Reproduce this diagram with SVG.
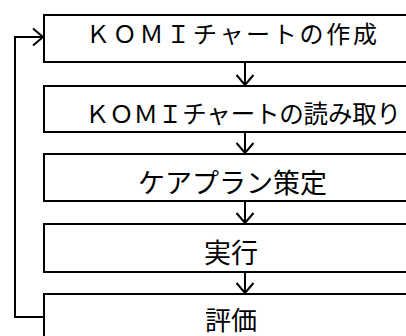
<svg xmlns="http://www.w3.org/2000/svg" width="406" height="336" viewBox="0 0 406 336">
<style>
.box{fill:#fff;stroke:#000;stroke-width:2}
.lbl{font-family:"Noto Sans CJK JP","Noto Sans CJK SC",sans-serif;fill:#000}
.con{fill:none;stroke:#000;stroke-width:2}
</style>
<defs>
<marker id="ah" markerUnits="userSpaceOnUse" markerWidth="24" markerHeight="24" viewBox="-12 -12 24 24" refX="0" refY="0" orient="auto" overflow="visible">
<path d="M-10,-8.5 L0,0 L-10,8.5" fill="none" stroke="#000" stroke-width="2"/>
</marker>
</defs>
<rect width="406" height="336" fill="#fff"/>
<g id="n1"><rect class="box" x="44" y="15" width="380" height="47"/><text class="lbl" x="86" y="43" font-size="24" textLength="291" lengthAdjust="spacing">ＫＯＭＩチャートの作成</text></g>
<g id="n2"><rect class="box" x="44" y="86" width="380" height="46"/><text class="lbl" x="85" y="123" font-size="24.5" textLength="316" lengthAdjust="spacing">ＫＯＭＩチャートの読み取り</text></g>
<g id="n3"><rect class="box" x="44" y="154" width="380" height="47"/><text class="lbl" x="232.5" y="193" font-size="27" text-anchor="middle">ケアプラン策定</text></g>
<g id="n4"><rect class="box" x="44" y="224" width="380" height="48"/><text class="lbl" x="231" y="263" font-size="27" text-anchor="middle">実行</text></g>
<g id="n5"><rect class="box" x="44" y="294" width="380" height="60"/><text class="lbl" x="231" y="330" font-size="26" text-anchor="middle">評価</text></g>
<g id="connectors">
<line class="con" x1="245" y1="62" x2="245" y2="85" marker-end="url(#ah)"/>
<line class="con" x1="245" y1="132" x2="245" y2="153" marker-end="url(#ah)"/>
<line class="con" x1="245" y1="201" x2="245" y2="223" marker-end="url(#ah)"/>
<line class="con" x1="245" y1="272" x2="245" y2="293" marker-end="url(#ah)"/>
<polyline class="con" points="44,317 15,317 15,37 43,37" marker-end="url(#ah)"/>
</g>
</svg>
